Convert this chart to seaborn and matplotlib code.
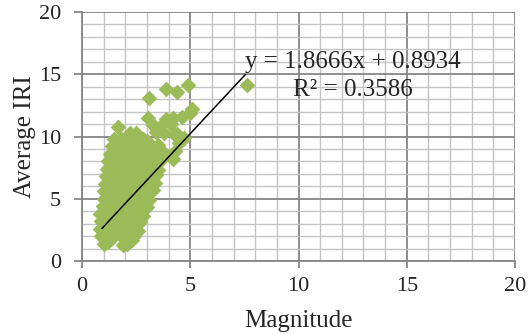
import matplotlib
matplotlib.use("Agg")
import matplotlib.pyplot as plt
import seaborn as sns
import pandas as pd
import numpy as np
from matplotlib.ticker import MultipleLocator

# Data points (Magnitude, Average IRI)
magnitude = [
    1.0, 1.2, 1.9, 2.1, 2.3,
    0.9, 1.2, 1.5, 1.8, 2.1, 2.4,
    0.85, 1.1, 1.4, 1.7, 2.0, 2.3, 2.6,
    0.9, 1.2, 1.5, 1.8, 2.1, 2.4, 2.7,
    0.85, 1.1, 1.4, 1.7, 2.0, 2.3, 2.6, 2.8,
    0.95, 1.2, 1.5, 1.8, 2.1, 2.4, 2.7, 3.0,
    1.0, 1.3, 1.6, 1.9, 2.2, 2.5, 2.8, 3.1,
    1.0, 1.3, 1.6, 1.9, 2.2, 2.5, 2.8, 3.1, 3.3,
    1.05, 1.35, 1.65, 1.95, 2.25, 2.55, 2.85, 3.15, 3.35,
    1.1, 1.4, 1.7, 2.0, 2.3, 2.6, 2.9, 3.2, 3.4,
    1.15, 1.45, 1.75, 2.05, 2.35, 2.65, 2.95, 3.25, 3.5,
    1.2, 1.5, 1.8, 2.1, 2.4, 2.7, 3.0, 3.3, 3.6, 4.2,
    1.3, 1.6, 1.9, 2.2, 2.5, 2.8, 3.1, 3.4, 3.8, 4.3,
    1.4, 1.7, 2.0, 2.3, 2.6, 3.1, 3.5, 4.5,
    1.5, 1.8, 2.2, 2.8, 3.0, 4.3, 4.7,
    2.2, 2.5, 3.4, 3.8, 4.4,
    1.65, 3.3, 3.7, 4.1,
    3.05, 3.9, 4.2, 4.6, 5.0,
    5.1,
    3.1, 3.9, 4.4, 4.9, 7.6,
]
average_iri = [
    1.4, 1.5, 1.3, 1.4, 1.7,
    2.0, 2.0, 2.0, 2.0, 2.0, 2.0,
    2.6, 2.6, 2.6, 2.6, 2.6, 2.6, 2.4,
    3.2, 3.2, 3.2, 3.2, 3.2, 3.2, 3.1,
    3.8, 3.8, 3.8, 3.8, 3.8, 3.8, 3.8, 3.6,
    4.4, 4.4, 4.4, 4.4, 4.4, 4.4, 4.4, 4.3,
    5.0, 5.0, 5.0, 5.0, 5.0, 5.0, 5.0, 4.9,
    5.6, 5.6, 5.6, 5.6, 5.6, 5.6, 5.6, 5.6, 5.7,
    6.2, 6.2, 6.2, 6.2, 6.2, 6.2, 6.2, 6.2, 6.3,
    6.8, 6.8, 6.8, 6.8, 6.8, 6.8, 6.8, 6.8, 6.9,
    7.4, 7.4, 7.4, 7.4, 7.4, 7.4, 7.4, 7.4, 7.3,
    8.0, 8.0, 8.0, 8.0, 8.0, 8.0, 8.0, 8.0, 8.0, 8.2,
    8.6, 8.6, 8.6, 8.6, 8.6, 8.6, 8.6, 8.6, 8.7, 8.8,
    9.2, 9.2, 9.2, 9.2, 9.2, 9.3, 9.3, 9.5,
    9.8, 9.8, 9.8, 9.8, 9.6, 10.1, 9.9,
    10.3, 10.3, 10.4, 10.3, 10.2,
    10.8, 10.9, 10.9, 11.0,
    11.5, 11.4, 11.5, 11.6, 11.9,
    12.2,
    13.1, 13.8, 13.6, 14.1, 14.1,
]
slope = 1.8666
intercept = 0.8934
r_squared = 0.3586
x_label = "Magnitude"
y_label = "Average IRI"
ticks = [0, 5, 10, 15, 20]

df = pd.DataFrame({"Magnitude": magnitude, "Average IRI": average_iri})

sns.set_style("white")
plt.rcParams["font.family"] = ["Liberation Serif", "DejaVu Serif"]

fig = plt.figure(figsize=(5.28, 3.34), dpi=100)
ax = fig.add_axes([82/528, 1-261/334, (515-82)/528, (261-12)/334])

sns.scatterplot(data=df, x="Magnitude", y="Average IRI", marker="D", s=64,
                color="#9BBB59", linewidth=0, ax=ax, zorder=3)

xs = np.array([0.92, max(magnitude) - 0.05])
ax.plot(xs, slope * xs + intercept, color="black", lw=1.1, zorder=4)

ax.set_xlim(0, 20)
ax.set_ylim(0, 20)
ax.xaxis.set_minor_locator(MultipleLocator(1))
ax.yaxis.set_minor_locator(MultipleLocator(1))
ax.set_xticks(ticks)
ax.set_yticks(ticks)
ax.grid(which="minor", color="#c4c4c4", lw=1.0, zorder=0)
ax.grid(which="major", color="#868686", lw=1.3, zorder=1)
ax.set_axisbelow(True)
for s in ["top", "right"]:
    ax.spines[s].set_visible(False)
for s in ["left", "bottom"]:
    ax.spines[s].set_color("#868686")
    ax.spines[s].set_linewidth(1.3)
ax.tick_params(axis="x", which="major", direction="out", length=5, width=1.3,
               color="#868686", labelsize=16, pad=6.5, bottom=True)
ax.tick_params(axis="y", which="major", direction="out", length=6, width=1.3,
               color="#868686", labelsize=16, pad=9, left=True)
ax.tick_params(which="minor", length=0)

ax.set_xlabel(x_label, fontsize=18, labelpad=10)
ax.set_ylabel(y_label, fontsize=18, labelpad=2)

ax.text(12.5, 16.0, f"y = {slope}x + {intercept}", ha="center", va="center",
        fontsize=18, zorder=5)
ax.text(12.5, 13.7, f"R² = {r_squared}", ha="center", va="center",
        fontsize=18, zorder=5)

fig.savefig("out.png", dpi=100)
